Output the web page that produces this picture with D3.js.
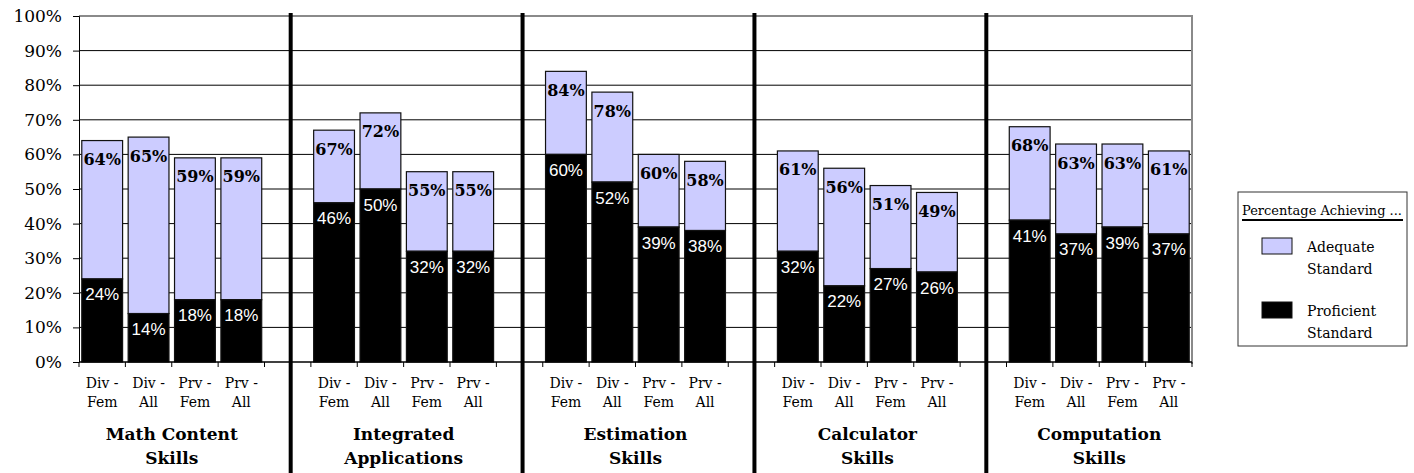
<!DOCTYPE html>
<html>
<head>
<meta charset="utf-8">
<script src="https://cdn.jsdelivr.net/npm/d3@7"></script>
<style>
  body { margin: 0; background: #fff; }
  text { font-family: "DejaVu Serif", serif; }
</style>
</head>
<body>
<div id="chart"></div>
<script>
// chart values
var groups = ['Math Content|Skills', 'Integrated|Applications', 'Estimation|Skills', 'Calculator|Skills', 'Computation|Skills'];
var subgroups = ['Div -|Fem', 'Div -|All', 'Prv -|Fem', 'Prv -|All'];
var adequate = [
  [0.64, 0.65, 0.59, 0.59],
  [0.67, 0.72, 0.55, 0.55],
  [0.84, 0.78, 0.60, 0.58],
  [0.61, 0.56, 0.51, 0.49],
  [0.68, 0.63, 0.63, 0.61]
];
var proficient = [
  [0.24, 0.14, 0.18, 0.18],
  [0.46, 0.50, 0.32, 0.32],
  [0.60, 0.52, 0.39, 0.38],
  [0.32, 0.22, 0.27, 0.26],
  [0.41, 0.37, 0.39, 0.37]
];
var yTicks = [0, 0.1, 0.2, 0.3, 0.4, 0.5, 0.6, 0.7, 0.8, 0.9, 1];
var legendTitle = 'Percentage Achieving ...';
var legendItems = [['Adequate', 'Standard'], ['Proficient', 'Standard']];

var width = 1414, height = 473;
var plotLeft = 79, plotRight = 1192, plotTop = 16, plotBottom = 362;

// build slot list: 4 bars per group, one blank slot between groups
var slots = [];
var rows = [];
groups.forEach(function(g, gi) {
  subgroups.forEach(function(s, si) {
    var key = 'g' + gi + 's' + si;
    slots.push(key);
    rows.push({key: key, group: gi, sub: s, adequate: adequate[gi][si], proficient: proficient[gi][si]});
  });
  if (gi < groups.length - 1) slots.push('gap' + gi);
});

var x = d3.scaleBand().domain(slots).range([plotLeft, plotRight]).paddingInner(0.12).paddingOuter(0.06);
var step = x.step();
var y = d3.scaleLinear().domain([0, 1]).range([plotBottom, plotTop]);

var svg = d3.select('#chart').append('svg')
  .attr('width', width)
  .attr('height', height);

// gridlines
svg.append('g').selectAll('line')
  .data(yTicks.filter(function(d) { return d > 0 && d < 1; }))
  .enter().append('line')
  .attr('x1', plotLeft).attr('x2', plotRight)
  .attr('y1', function(d) { return y(d); })
  .attr('y2', function(d) { return y(d); })
  .attr('stroke', '#000').attr('stroke-width', 1);

// plot border (top, right)
svg.append('path')
  .attr('d', 'M' + plotLeft + ',' + y(1) + 'H' + plotRight + 'V' + (y(0) + 2))
  .attr('fill', 'none').attr('stroke', '#8a8a8a').attr('stroke-width', 2);

// y axis
var yAxis = svg.append('g')
  .attr('transform', 'translate(' + plotLeft + ',0)')
  .call(d3.axisLeft(y).tickValues(yTicks).tickFormat(d3.format('.0%')).tickSize(6).tickPadding(11));
yAxis.select('.domain').attr('stroke', '#000');
yAxis.selectAll('text').attr('font-size', 17).attr('font-family', '"DejaVu Serif", serif').attr('fill', '#000');

// bars
var bars = svg.append('g').selectAll('g').data(rows).enter().append('g');

bars.append('rect')
  .attr('x', function(d) { return x(d.key); })
  .attr('width', x.bandwidth())
  .attr('y', function(d) { return y(d.adequate); })
  .attr('height', function(d) { return y(d.proficient) - y(d.adequate); })
  .attr('fill', '#ccccff').attr('stroke', '#111').attr('stroke-width', 1.2);

bars.append('rect')
  .attr('x', function(d) { return x(d.key); })
  .attr('width', x.bandwidth())
  .attr('y', function(d) { return y(d.proficient); })
  .attr('height', function(d) { return y(0) - y(d.proficient); })
  .attr('fill', '#000').attr('stroke', '#111').attr('stroke-width', 1.2);

bars.append('text')
  .attr('x', function(d) { return x(d.key) + x.bandwidth() / 2; })
  .attr('y', function(d) { return y(d.adequate) + 19; })
  .attr('text-anchor', 'middle').attr('dominant-baseline', 'central')
  .attr('font-size', 16).attr('font-weight', 'bold')
  .text(function(d) { return Math.round(d.adequate * 100) + '%'; });

bars.append('text')
  .attr('x', function(d) { return x(d.key) + x.bandwidth() / 2; })
  .attr('y', function(d) { return y(d.proficient) + 16; })
  .attr('text-anchor', 'middle').attr('dominant-baseline', 'central')
  .style('font-family', '"Liberation Sans", Arial, sans-serif')
  .attr('font-size', 17).attr('fill', '#fff')
  .text(function(d) { return Math.round(d.proficient * 100) + '%'; });

// x axis line and ticks at slot boundaries
svg.append('line')
  .attr('x1', plotLeft).attr('x2', plotRight)
  .attr('y1', y(0)).attr('y2', y(0))
  .attr('stroke', '#000').attr('stroke-width', 1.5);

var bounds = slots.map(function(k) { return x(k) - step * 0.06; }).concat([plotRight]);
svg.append('g').selectAll('line').data(bounds).enter().append('line')
  .attr('x1', function(d) { return d; }).attr('x2', function(d) { return d; })
  .attr('y1', y(0)).attr('y2', y(0) + 5)
  .attr('stroke', '#000');

// sub category labels
var subLabels = svg.append('g').selectAll('text').data(rows).enter().append('text')
  .attr('text-anchor', 'middle')
  .attr('font-size', 14)
  .attr('transform', function(d) { return 'translate(' + (x(d.key) + x.bandwidth() / 2) + ',388)'; });
subLabels.append('tspan').attr('x', 0).attr('dy', 0).text(function(d) { return d.sub.split('|')[0]; });
subLabels.append('tspan').attr('x', 0).attr('dy', 19).text(function(d) { return d.sub.split('|')[1]; });

// group labels
var groupLabels = svg.append('g').selectAll('text').data(groups).enter().append('text')
  .attr('text-anchor', 'middle')
  .attr('font-size', 17).attr('font-weight', 'bold')
  .attr('transform', function(d, i) {
    var a = x('g' + i + 's0'), b = x('g' + i + 's3') + x.bandwidth();
    return 'translate(' + ((a + b) / 2) + ',440)';
  });
groupLabels.append('tspan').attr('x', 0).attr('dy', 0).text(function(d) { return d.split('|')[0]; });
groupLabels.append('tspan').attr('x', 0).attr('dy', 24).text(function(d) { return d.split('|')[1]; });

// group separators
svg.append('g').selectAll('line')
  .data(slots.filter(function(k) { return k.indexOf('gap') === 0; }))
  .enter().append('line')
  .attr('x1', function(d) { return x(d) + x.bandwidth() / 2 + 3; })
  .attr('x2', function(d) { return x(d) + x.bandwidth() / 2 + 3; })
  .attr('y1', 13).attr('y2', height)
  .attr('stroke', '#000').attr('stroke-width', 4);

// legend
var legend = svg.append('g').attr('transform', 'translate(1238,192)');
legend.append('rect')
  .attr('width', 169).attr('height', 154)
  .attr('fill', '#fff').attr('stroke', '#333').attr('stroke-width', 1);
legend.append('text')
  .attr('x', 4).attr('y', 23)
  .attr('font-size', 13).attr('textLength', 160).attr('lengthAdjust', 'spacingAndGlyphs')
  .text(legendTitle);
legend.append('line')
  .attr('x1', 4).attr('x2', 165).attr('y1', 28).attr('y2', 28)
  .attr('stroke', '#000').attr('stroke-width', 2);

var items = legend.selectAll('g.item').data(legendItems).enter().append('g')
  .attr('class', 'item')
  .attr('transform', function(d, i) { return 'translate(0,' + (46 + i * 64) + ')'; });
items.append('rect')
  .attr('x', 24).attr('width', 30).attr('height', 16)
  .attr('fill', function(d, i) { return i === 0 ? '#ccccff' : '#000'; })
  .attr('stroke', '#111').attr('stroke-width', 1);
var itemText = items.append('text').attr('font-size', 14).attr('transform', 'translate(69,14)');
itemText.append('tspan').attr('x', 0).attr('dy', 0).text(function(d) { return d[0]; });
itemText.append('tspan').attr('x', 0).attr('dy', 22).text(function(d) { return d[1]; });
</script>
</body>
</html>
